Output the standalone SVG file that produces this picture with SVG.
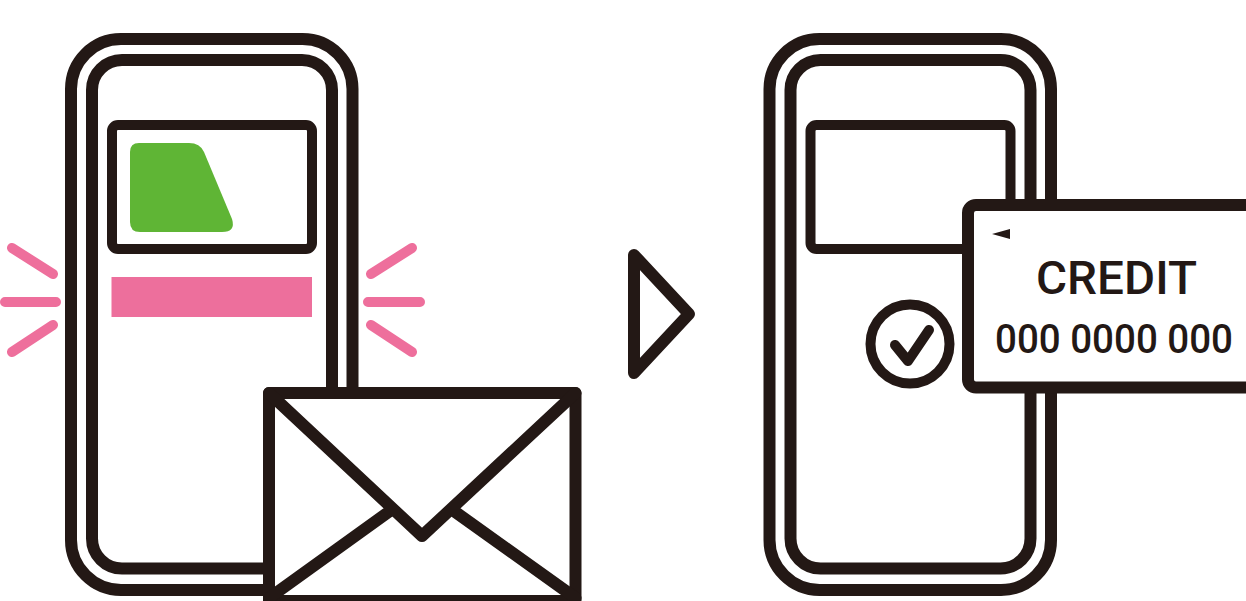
<svg xmlns="http://www.w3.org/2000/svg" width="1246" height="601" viewBox="0 0 1246 601">
<style>
.k{fill:none;stroke:#231815;stroke-linejoin:round;stroke-linecap:round}
.w{fill:#fff;stroke:#231815;stroke-linejoin:round}
.r{fill:none;stroke:#ee6f9c;stroke-width:10;stroke-linecap:round}
text{font-family:"Roboto","Liberation Sans",sans-serif;fill:#231815;text-anchor:start;font-weight:500}
</style>
<defs>
<g id="phone">
<rect class="k" stroke-width="12" x="71" y="39" width="281.500" height="551" rx="50"/>
<rect class="k" stroke-width="12" x="92" y="60" width="240" height="508.500" rx="30"/>
<rect class="k" stroke-width="10" x="112" y="125" width="200" height="124" rx="6"/>
</g>
</defs>
<rect width="1246" height="601" fill="#fff"/>
<g id="phone-left">
<use href="#phone"/>
<path d="M139 143H189Q200 143 204 152L232 219Q236 232 222 232H140Q130 232 130 222V152Q130 143 139 143Z" fill="#5fb535"/>
<rect x="111.500" y="277" width="200.500" height="40" fill="#ed6f9c"/>
</g>
<g id="rays-left">
<path class="r" d="M12 248L53 274M5 302H56M53 325L12 352"/>
</g>
<g id="rays-right">
<path class="r" d="M412 248L371 274M420 302H368M371 325L412 352"/>
</g>
<g id="envelope">
<rect class="w" stroke-width="12" x="269" y="393" width="306.500" height="208"/>
<path class="k" stroke-width="12" d="M269 393L422 536L575.500 393M269 598L390 511M454 511L575.500 598"/>
</g>
<g id="arrow">
<path class="k" stroke-width="12" d="M634 255L689 314L634 373Z"/>
</g>
<g id="phone-right">
<use href="#phone" x="698.500"/>
</g>
<g id="check">
<circle cx="910" cy="344" r="39.500" fill="#fff" stroke="#231815" stroke-width="10"/>
<path class="k" stroke-width="10" d="M895 345L908 361L929 330"/>
</g>
<g id="card">
<rect class="w" stroke-width="12" x="968" y="205" width="300" height="182.500" rx="8"/>
<path d="M992 234L1010 229V239Z" fill="#231815"/>
<text x="1036" y="294" font-size="47" textLength="161" lengthAdjust="spacingAndGlyphs">CREDIT</text>
<text x="995" y="353" font-size="41" textLength="238" lengthAdjust="spacingAndGlyphs">000 0000 000</text>
</g>
</svg>
